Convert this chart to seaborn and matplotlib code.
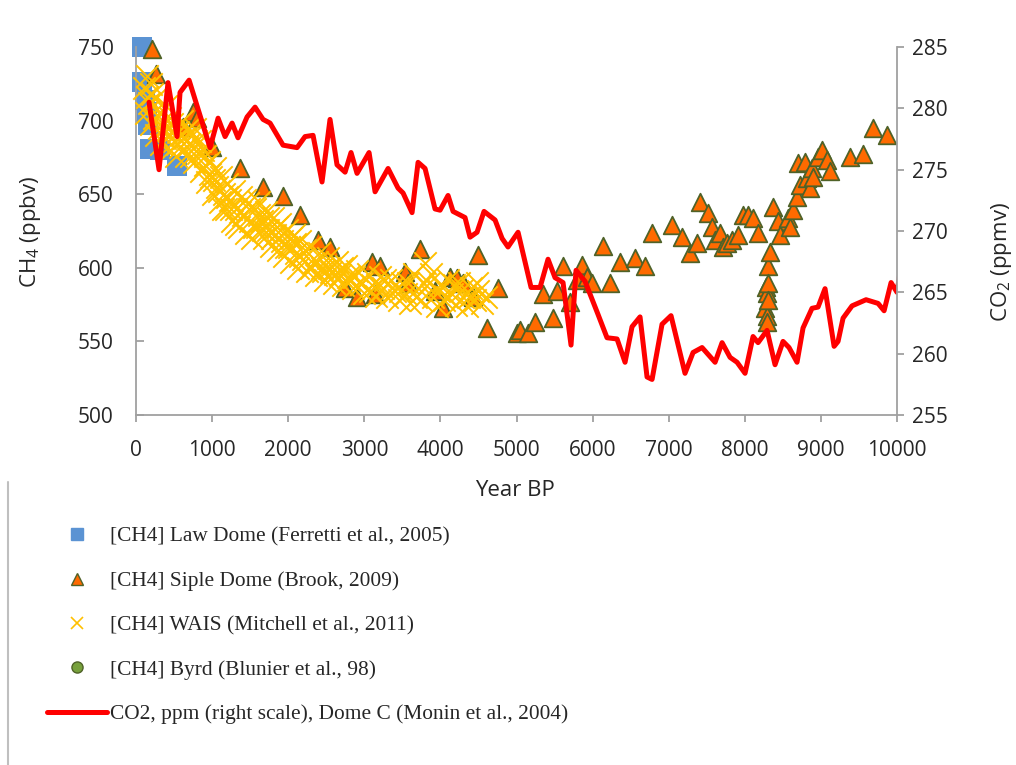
import matplotlib
matplotlib.use("Agg")
import matplotlib.pyplot as plt
import seaborn as sns
from matplotlib.lines import Line2D

# CH4 data (ppbv)
law_year = [80, 80, 120, 145, 160, 185, 315, 540]
law_ch4 = [750, 726, 714, 706, 697, 681, 680, 669]

siple_year = [210, 263, 618, 749, 802, 999, 1367, 1669, 1932, 2155, 2392, 2549, 2746, 2904,
              3101, 3141, 3206, 3535, 3574, 3732, 3929, 4034, 4126, 4218, 4297, 4428, 4494,
              4612, 4757, 5007, 5046, 5151, 5243, 5348, 5480, 5532, 5611, 5703, 5795, 5861,
              5926, 5992, 6137, 6229, 6360, 6557, 6688, 6780, 7043, 7175, 7280, 7372, 7411,
              7516, 7569, 7608, 7674, 7713, 7766, 7832, 7911, 7976, 8042, 8108, 8173, 8265,
              8280, 8292, 8292, 8292, 8305, 8305, 8305, 8331, 8370, 8436, 8462, 8567, 8594,
              8633, 8686, 8699, 8725, 8791, 8817, 8857, 8883, 8896, 8962, 9014, 9080, 9119,
              9382, 9553, 9684, 9868]
siple_ch4 = [749, 732, 696, 706, 702, 682, 668, 655, 649, 636, 619, 614, 586, 580,
             604, 582, 601, 597, 590, 613, 584, 573, 594, 593, 590, 580, 609,
             559, 586, 556, 558, 556, 563, 582, 566, 584, 601, 577, 592, 602,
             594, 590, 615, 590, 604, 607, 601, 624, 629, 621, 610, 617, 645,
             637, 628, 619, 624, 614, 617, 619, 622, 636, 636, 634, 624, 573,
             587, 583, 567, 563, 601, 590, 578, 611, 641, 632, 622, 634, 628,
             639, 648, 671, 656, 672, 661, 654, 668, 662, 675, 680, 673, 666,
             675, 677, 695, 690]

wais_year = [110, 130, 150, 170, 190, 210, 240, 260, 280, 300,
             330, 350, 380, 400, 420, 450, 470, 500, 520, 550,
             580, 600, 630, 650, 680, 700, 730, 760, 790, 820,
             850, 880, 900, 930, 960, 990, 1010, 1040, 1070, 1100,
             1120, 1150, 1180, 1200, 1230, 1260, 1290, 1320, 1350, 1380,
             1410, 1440, 1470, 1500, 1530, 1560, 1590, 1620, 1650, 1680,
             1710, 1740, 1770, 1800, 1830, 1860, 1890, 1920, 1950, 1980,
             2010, 2040, 2070, 2100, 2130, 2160, 2200, 2240, 2280, 2320,
             2360, 2400, 2440, 2480, 2520, 2560, 2600, 2640, 2680, 2720,
             2760, 2800, 2850, 2900, 2950, 3000, 3050, 3100, 3150, 3200,
             3250, 3300, 3350, 3400, 3450, 3500, 3550, 3600, 3650, 3700,
             3750, 3800, 3850, 3900, 3950, 4000, 4050, 4100, 4150, 4200,
             4250, 4300, 4350, 4400, 4450, 4500, 4550,
             150, 200, 250, 320, 370, 440, 490, 540, 610, 670,
             720, 780, 840, 910, 970, 1030, 1090, 1140, 1190, 1250,
             1310, 1370, 1430, 1490, 1550, 1610, 1670, 1730, 1790, 1850,
             1910, 1970, 2030, 2090, 2150, 2220, 2300, 2380, 2460, 2540,
             2620, 2700, 2780, 2870, 2970, 3070, 3170, 3270, 3370, 3470,
             3570, 3680, 3780, 3880, 3980, 4080, 4180, 4280, 4380, 4480, 4600]
wais_ch4 = [722, 705, 730, 712, 698, 718, 702, 690, 708, 695,
            684, 700, 688, 710, 694, 680, 698, 686, 676, 692,
            682, 700, 688, 676, 694, 684, 690, 672, 686, 678,
            666, 680, 670, 658, 672, 662, 650, 668, 655, 645,
            662, 650, 640, 657, 646, 632, 652, 640, 628, 648,
            636, 624, 644, 632, 620, 640, 628, 645, 632, 620,
            638, 626, 615, 634, 622, 612, 630, 618, 608, 626,
            614, 604, 622, 610, 600, 618, 606, 598, 614, 603,
            595, 610, 600, 592, 607, 597, 590, 604, 595, 588,
            601, 592, 586, 598, 589, 583, 596, 588, 581, 594,
            586, 580, 592, 584, 578, 590, 582, 576, 596, 586,
            578, 603, 590, 580, 574, 588, 578, 592, 582, 575,
            590, 580, 574, 586, 578, 584, 576,
            716, 725, 715, 705, 694, 702, 692, 684, 690, 682,
            676, 694, 686, 676, 664, 660, 652, 640, 648, 640,
            630, 638, 646, 640, 628, 636, 626, 634, 620, 628,
            622, 614, 620, 616, 608, 612, 600, 604, 598, 600,
            596, 600, 594, 594, 590, 584, 588, 592, 586, 584,
            590, 580, 590, 596, 584, 580, 588, 585, 580, 590, 580]

# no Byrd points visible in the plotted range
byrd_year = []
byrd_ch4 = []

# CO2 (ppmv), Dome C
co2_year = [171, 302, 420, 539, 578, 697, 972, 1078, 1170, 1262, 1340, 1459, 1564, 1669,
            1761, 1932, 2116, 2221, 2326, 2444, 2549, 2641, 2747, 2825, 2904, 3062, 3141,
            3312, 3443, 3509, 3627, 3706, 3798, 3929, 3995, 4100, 4166, 4323, 4389, 4481,
            4573, 4718, 4810, 4888, 5020, 5191, 5309, 5414, 5506, 5611, 5716, 5782, 5900,
            6071, 6189, 6321, 6426, 6518, 6623, 6715, 6781, 6912, 7030, 7214, 7320, 7438,
            7609, 7701, 7806, 7898, 8003, 8108, 8174, 8292, 8397, 8502, 8581, 8686, 8765,
            8883, 8962, 9054, 9173, 9225, 9291, 9409, 9593, 9751, 9830, 9922, 10000, 10060]
co2_ppm = [280.5, 275.0, 282.1, 277.7, 281.3, 282.3, 276.8, 279.2, 277.7, 278.8, 277.6, 279.3,
           280.1, 279.1, 278.8, 277.0, 276.8, 277.7, 277.8, 274.0, 279.1, 275.4, 274.8, 276.4,
           274.7, 276.4, 273.2, 275.1, 273.5, 273.1, 271.5, 275.6, 275.1, 271.8, 271.7, 272.9,
           271.6, 271.1, 269.5, 269.9, 271.6, 270.9, 269.4, 268.7, 269.9, 265.4, 265.4, 267.7,
           266.2, 265.8, 260.7, 266.8, 265.9, 263.2, 261.3, 261.2, 259.3, 262.2, 263.0, 258.1,
           257.9, 262.4, 263.1, 258.4, 260.1, 260.5, 259.3, 260.9, 259.7, 259.3, 258.4, 261.4,
           260.9, 261.9, 259.1, 261.0, 260.5, 259.3, 262.1, 263.7, 263.8, 265.3, 260.6, 261.0,
           262.9, 263.9, 264.4, 264.1, 263.5, 265.8, 265.0, 267.5]

labels = ["[CH4] Law Dome (Ferretti et al., 2005)",
          "[CH4] Siple Dome (Brook, 2009)",
          "[CH4] WAIS (Mitchell et al., 2011)",
          "[CH4] Byrd (Blunier et al., 98)",
          "CO2, ppm (right scale), Dome C (Monin et al., 2004)"]

sns.set_style("white")
plt.rcParams["font.family"] = ["Open Sans", "DejaVu Sans"]
plt.rcParams["mathtext.fontset"] = "custom"
plt.rcParams["mathtext.rm"] = "Open Sans"

grey = "#A0A0A0"
blue = "#5B93D3"
orange = "#FF6A00"
olive = "#4F6228"
gold = "#FFC000"
green = "#77A13C"
red = "#FF0000"

fig = plt.figure(figsize=(10.16, 7.65), dpi=100)
ax = fig.add_axes([0.1339, 0.4575, 0.749, 0.481])

sns.scatterplot(x=law_year, y=law_ch4, ax=ax, marker="s", s=210, color=blue,
                edgecolor=blue, linewidth=0, clip_on=False, zorder=2)
sns.scatterplot(x=siple_year, y=siple_ch4, ax=ax, marker="^", s=160, color=orange,
                edgecolor=olive, linewidth=1.3, clip_on=False, zorder=3)
sns.scatterplot(x=wais_year, y=wais_ch4, ax=ax, marker="x", s=260, color=gold,
                linewidth=1.4, clip_on=False, zorder=4)

ax.set_xlim(0, 10000)
ax.set_ylim(500, 750)
ax.set_xticks(range(0, 10001, 1000))
ax.set_yticks(range(500, 751, 50))
ax.set_xlabel("")
ax.set_ylabel("")

ax2 = ax.twinx()
sns.lineplot(x=co2_year, y=co2_ppm, ax=ax2, color=red, linewidth=3.6, estimator=None,
             sort=False)
ax2.set_ylim(255, 285)
ax2.set_yticks(range(255, 286, 5))
ax2.set_ylabel("")

for a in (ax, ax2):
    for s in a.spines.values():
        s.set_color(grey)
        s.set_linewidth(1.3)
    a.spines["top"].set_visible(False)
ax.spines["right"].set_visible(False)
ax2.spines["left"].set_visible(False)
ax2.spines["bottom"].set_visible(False)

ax.tick_params(axis="y", direction="in", length=6, width=1.3, color=grey,
               labelsize=15, pad=16, left=True)
ax.tick_params(axis="x", direction="out", length=5, width=1.3, color=grey,
               labelsize=15, pad=13, bottom=True)
ax2.tick_params(axis="y", direction="out", length=5, width=1.3, color=grey,
                labelsize=15, pad=6, right=True)

fig.text(0.507, 0.359, "Year BP", fontsize=16, ha="center", va="center")
fig.text(0.030, 0.697, "CH$_4$ (ppbv)", fontsize=16, rotation=90, ha="center", va="center")
fig.text(0.986, 0.6575, "CO$_2$ (ppmv)", fontsize=16, rotation=90, ha="center", va="center")

handles = [
    Line2D([], [], linestyle="none", marker="s", markersize=8, color=blue),
    Line2D([], [], linestyle="none", marker="^", markersize=8, markerfacecolor=orange,
           markeredgecolor=olive),
    Line2D([], [], linestyle="none", marker="x", markersize=8, color=gold, markeredgewidth=1.2),
    Line2D([], [], linestyle="none", marker="o", markersize=8, markerfacecolor=green,
           markeredgecolor=olive),
    Line2D([], [], color=red, linewidth=3.6),
]
fig.legend(handles, labels, loc="upper left", bbox_to_anchor=(0.046, 0.3115),
           frameon=False, prop={"family": "Liberation Serif", "size": 15.4},
           handlelength=2.8, handletextpad=0.15, labelspacing=1.14,
           borderpad=0, borderaxespad=0)

# left border line of the original sheet
fig.add_artist(Line2D([0.008, 0.008], [0.0, 0.37], color="#BFBFBF", linewidth=1.5))

fig.savefig("out.png", dpi=100)
